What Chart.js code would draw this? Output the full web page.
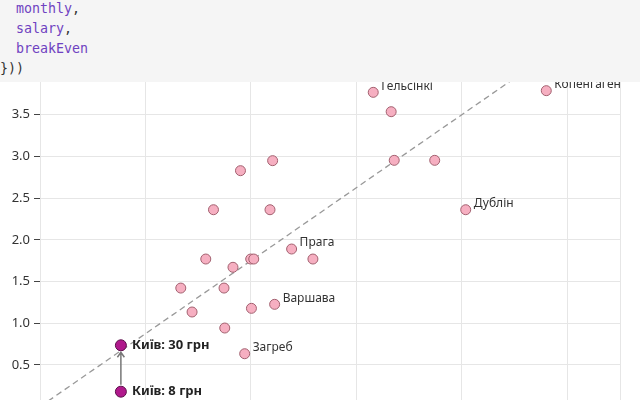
<!DOCTYPE html>
<html>
<head>
<meta charset="utf-8">
<script src="https://cdn.jsdelivr.net/npm/chart.js@4"></script>
<style>
  html, body { margin: 0; padding: 0; background: #fff; overflow: hidden; }
  /* taller than the window: the bottom of the plot is cut off, as in the reference */
  #wrap { position: absolute; left: 0; top: 0; width: 640px; height: 420px; }
  #code {
    position: absolute; left: 0; top: 0; width: 640px; height: 82px;
    background: #f5f5f5; overflow: hidden; z-index: 2;
  }
  #code pre {
    margin: -1px 0 0 0; padding: 0;
    font-family: "DejaVu Sans Mono", "Liberation Mono", monospace;
    font-size: 13.3px; line-height: 20px; color: #333;
  }
  #code .v { color: #6f42c1; }
</style>
</head>
<body>
<div id="wrap"><canvas id="salaryChart"></canvas></div>
<div id="code"><pre>  <span class="v">monthly</span>,
  <span class="v">salary</span>,
  <span class="v">breakEven</span>
}))</pre></div>
<script>
// cities (pink dots); empty name = no label
const cityNames = ['', '', '', '', 'Гельсінкі', '', '', '', 'Дублін', 'Копенгаген',
    'Прага', '', '', '', '', '', '', '', '', 'Варшава', '', '', 'Загреб'];
const cityX = [1.645, 1.901, 2.206, 2.181, 3.160, 3.330, 3.359, 3.743, 4.037, 4.801,
    2.386, 2.588, 1.572, 1.830, 1.998, 2.027, 1.335, 1.745, 1.442, 2.225, 2.005, 1.752, 1.941];
const cityY = [2.361, 2.829, 2.949, 2.361, 3.768, 3.536, 2.953, 2.953, 2.361, 3.788,
    1.890, 1.770, 1.770, 1.671, 1.770, 1.770, 1.422, 1.422, 1.135, 1.227, 1.179, 0.943, 0.635];

// Kyiv: old price vs new price
const kyivLabels = ['Київ: 30 грн', 'Київ: 8 грн'];
const kyivX = [0.767, 0.767];
const kyivY = [0.736, 0.180];

// break-even line
const breakEvenX = [0, 5.5];
const breakEvenY = [0, 4.8125];

const yTickValues = [0.5, 1.0, 1.5, 2.0, 2.5, 3.0, 3.5, 4.0];

// where y = 0 sits on the page and how many px one unit takes
const yZeroPx = 406.7;
const yPxPerUnit = 83.43;

function toPoints(xs, ys) {
    return xs.map((x, i) => ({x: x, y: ys[i]}));
}

/**
 * Text labels next to dots + arrow between the two Kyiv points
 */
const labelsPlugin = {
    id: 'cityLabels',
    afterDatasetsDraw(chart) {
        const ctx = chart.ctx;
        const xs = chart.scales.x;
        const ys = chart.scales.y;
        ctx.save();

        // arrow 8 грн -> 30 грн
        const ax = xs.getPixelForValue(kyivX[1]);
        const y1 = ys.getPixelForValue(kyivY[1]) - 7;
        const y2 = ys.getPixelForValue(kyivY[0]) + 7;
        ctx.strokeStyle = '#777';
        ctx.lineWidth = 1.5;
        ctx.beginPath();
        ctx.moveTo(ax, y1);
        ctx.lineTo(ax, y2);
        ctx.moveTo(ax - 3.5, y2 + 5);
        ctx.lineTo(ax, y2);
        ctx.lineTo(ax + 3.5, y2 + 5);
        ctx.stroke();

        ctx.textBaseline = 'middle';
        ctx.textAlign = 'left';
        ctx.fillStyle = '#333';
        ctx.font = '12px "Noto Sans"';
        cityNames.forEach((name, i) => {
            if (!name) return;
            const px = xs.getPixelForValue(cityX[i]);
            const py = ys.getPixelForValue(cityY[i]);
            ctx.fillText(name, px + 8, py - 6);
        });

        ctx.fillStyle = '#222';
        ctx.font = 'bold 13px "Noto Sans"';
        kyivLabels.forEach((name, i) => {
            const px = xs.getPixelForValue(kyivX[i]);
            const py = ys.getPixelForValue(kyivY[i]);
            ctx.fillText(name, px + 11, py);
        });
        ctx.restore();
    }
};

const ctx = document.getElementById('salaryChart').getContext('2d');

const chart = new Chart(ctx, {
    type: 'scatter',
    data: {
        datasets: [{
            label: 'Київ',
            data: toPoints(kyivX, kyivY),
            backgroundColor: '#b0198c',
            borderColor: '#5c0f4a',
            borderWidth: 1,
            pointRadius: 5.5,
            order: 1
        }, {
            label: 'Міста',
            data: toPoints(cityX, cityY),
            backgroundColor: '#f6afc1',
            borderColor: '#a2606f',
            borderWidth: 1,
            pointRadius: 5,
            order: 2
        }, {
            type: 'line',
            label: 'breakEven',
            data: toPoints(breakEvenX, breakEvenY),
            borderColor: '#999',
            borderWidth: 1.3,
            borderDash: [6, 4],
            pointRadius: 0,
            fill: false,
            order: 3
        }]
    },
    options: {
        responsive: true,
        maintainAspectRatio: false,
        animation: false,
        layout: {
            padding: {top: 40, right: 20, left: 0, bottom: 0}
        },
        plugins: {
            legend: {display: false},
            tooltip: {enabled: false}
        },
        scales: {
            x: {
                type: 'linear',
                min: 0,
                max: 5.5,
                ticks: {display: false, stepSize: 1},
                grid: {color: '#e6e6e6', drawTicks: false},
                border: {display: false},
                afterFit: function(scale) {
                    scale.height = 0;
                }
            },
            y: {
                type: 'linear',
                min: 0,
                max: 4.4,
                afterBuildTicks: function(scale) {
                    scale.ticks = yTickValues.map(v => ({value: v}));
                },
                ticks: {
                    color: '#333',
                    padding: 4,
                    font: {family: '"Noto Sans"', size: 13},
                    callback: v => v.toFixed(1)
                },
                grid: {color: '#e6e6e6', tickColor: '#444', tickLength: 6},
                border: {display: false},
                afterFit: function(scale) {
                    scale.width = 40;
                }
            }
        }
    },
    plugins: [labelsPlugin]
});

// fit the y range to the real plot area so the ticks land where they do in the reference
const area = chart.chartArea;
chart.options.scales.y.min = (yZeroPx - area.bottom) / yPxPerUnit;
chart.options.scales.y.max = (yZeroPx - area.top) / yPxPerUnit;
chart.update('none');
</script>
</body>
</html>
